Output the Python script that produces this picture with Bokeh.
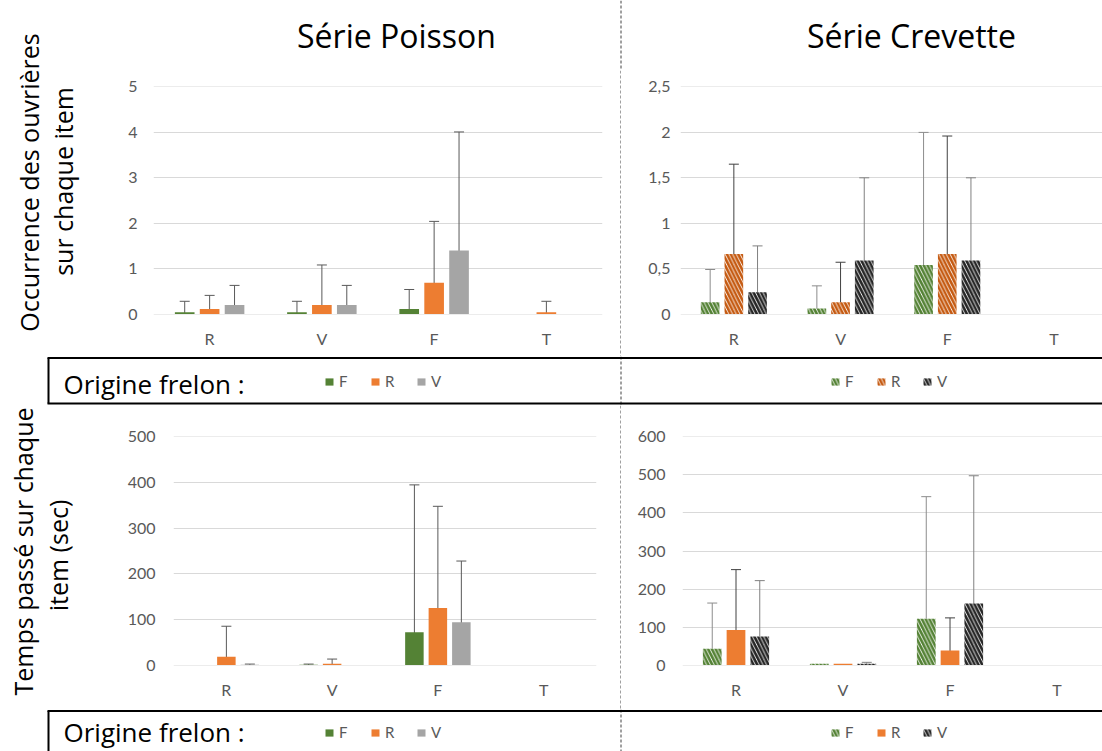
import numpy as np
from bokeh.plotting import figure
from bokeh.models import (ColumnDataSource, Range1d, FixedTicker, Whisker, TeeHead,
                          Legend, LegendItem)
from bokeh.layouts import column, row
from bokeh.embed import file_html
from bokeh.resources import INLINE
from bokeh.core.properties import value

# ---------------- data ----------------
categories = ["R", "V", "F", "T"]
origins = ["F", "R", "V"]

# Occurrence des ouvrières – Série Poisson
occ_poisson_F = [0.04, 0.04, 0.11, 0.0]
occ_poisson_R = [0.11, 0.20, 0.69, 0.04]
occ_poisson_V = [0.20, 0.20, 1.40, 0.0]
occ_poisson_F_err = [0.24, 0.24, 0.43, 0.0]
occ_poisson_R_err = [0.30, 0.88, 1.35, 0.24]
occ_poisson_V_err = [0.43, 0.43, 2.61, 0.0]

# Occurrence des ouvrières – Série Crevette
occ_crevette_F = [0.13, 0.06, 0.54, 0.0]
occ_crevette_R = [0.66, 0.13, 0.66, 0.0]
occ_crevette_V = [0.24, 0.59, 0.59, 0.0]
occ_crevette_F_err = [0.36, 0.25, 1.46, 0.0]
occ_crevette_R_err = [0.99, 0.44, 1.30, 0.0]
occ_crevette_V_err = [0.51, 0.91, 0.91, 0.0]

# Temps passé (sec) – Série Poisson
time_poisson_F = [0.0, 0.5, 72, 0.0]
time_poisson_R = [18, 3, 125, 0.0]
time_poisson_V = [0.5, 0.0, 94, 0.0]
time_poisson_F_err = [0.0, 1.5, 323, 0.0]
time_poisson_R_err = [67, 10, 223, 0.0]
time_poisson_V_err = [1.5, 0.0, 134, 0.0]

# Temps passé (sec) – Série Crevette
time_crevette_F = [43, 3, 122, 0.0]
time_crevette_R = [92, 3, 38, 0.0]
time_crevette_V = [75, 3, 162, 0.0]
time_crevette_F_err = [120, 0.0, 321, 0.0]
time_crevette_R_err = [159, 0.0, 86, 0.0]
time_crevette_V_err = [147, 4, 336, 0.0]

occ_poisson_ticks = [0, 1, 2, 3, 4, 5]
occ_poisson_labels = ["0", "1", "2", "3", "4", "5"]
occ_crevette_ticks = [0, 0.5, 1, 1.5, 2, 2.5]
occ_crevette_labels = ["0", "0,5", "1", "1,5", "2", "2,5"]
time_poisson_ticks = [0, 100, 200, 300, 400, 500]
time_poisson_labels = ["0", "100", "200", "300", "400", "500"]
time_crevette_ticks = [0, 100, 200, 300, 400, 500, 600]
time_crevette_labels = ["0", "100", "200", "300", "400", "500", "600"]

titles = ["Série Poisson", "Série Crevette"]
ylabel_top = ["Occurrence des ouvrières", "sur chaque item"]
ylabel_bottom = ["Temps passé sur chaque", "item (sec)"]
legend_title = "Origine frelon :"

# ---------------- styles ----------------
FONT = "Lato"
BIG_FONT = "Open Sans"
TICK_COLOR = "#595959"
GREEN = "#548235"
ORANGE = "#ED7D31"
DARK_ORANGE = "#C55A11"
GRAY = "#A5A5A5"
BLACK = "#262626"
DIV_COLOR = "#404040"
BAR_W = 0.175
OFFSETS = [-0.222, 0.0, 0.222]


def solid(c):
    return dict(fill_color=c, line_color=None)


def hatched(c):
    return dict(fill_color="white", line_color=None, hatch_pattern="\\",
                hatch_color=c, hatch_weight=2.6, hatch_scale=7.5)


poisson_styles = [solid(GREEN), solid(ORANGE), solid(GRAY)]
crevette_occ_styles = [hatched(GREEN), hatched(DARK_ORANGE), hatched(BLACK)]
crevette_time_styles = [hatched(GREEN), solid(ORANGE), hatched(BLACK)]


def chart(width, height, xend, yticks, ylabels, values, errors, styles, err_colors,
          borders, ystandoff, xstandoff):
    left, right, top, bottom = borders
    yend = yticks[-1]
    frame_h = height - top - bottom
    pad = 0.5 * yend / frame_h
    p = figure(width=width, height=height, x_range=Range1d(-0.5, xend),
               y_range=Range1d(-pad, yend + pad), output_backend="svg",
               toolbar_location=None, min_border_left=left, min_border_right=right,
               min_border_top=top, min_border_bottom=bottom,
               outline_line_color=None, background_fill_color="white",
               border_fill_color="white")
    n = len(categories)
    for k in range(3):
        xs = [i + OFFSETS[k] for i in range(n)]
        src = ColumnDataSource(dict(x=xs, top=values[k]))
        p.vbar(x="x", top="top", width=BAR_W, source=src, **styles[k])
        keep = [i for i in range(n) if errors[k][i] > 0]
        wsrc = ColumnDataSource(dict(
            base=[xs[i] for i in keep],
            lower=[max(values[k][i] - errors[k][i], 0) for i in keep],
            upper=[values[k][i] + errors[k][i] for i in keep]))
        wh = Whisker(source=wsrc, base="base", lower="lower", upper="upper",
                     dimension="height", line_color=err_colors[k], line_width=1,
                     upper_head=TeeHead(size=10, line_color=err_colors[k], line_width=1),
                     lower_head=None)
        p.add_layout(wh)
    p.xaxis.ticker = FixedTicker(ticks=list(range(n)))
    p.xaxis.major_label_overrides = {i: c for i, c in enumerate(categories)}
    p.yaxis.ticker = FixedTicker(ticks=yticks)
    p.yaxis.major_label_overrides = {t: l for t, l in zip(yticks, ylabels)}
    for ax in (p.xaxis, p.yaxis):
        ax.axis_line_color = None
        ax.major_tick_line_color = None
        ax.minor_tick_line_color = None
        ax.major_tick_out = 0
        ax.major_tick_in = 0
        ax.major_label_text_font = FONT
        ax.major_label_text_font_size = "16px"
        ax.major_label_text_color = TICK_COLOR
    p.yaxis.major_label_standoff = ystandoff
    p.xaxis.major_label_standoff = xstandoff
    p.xgrid.visible = False
    p.ygrid.ticker = FixedTicker(ticks=yticks)
    p.ygrid.grid_line_color = "#D9D9D9"
    p.ygrid.grid_line_width = 1
    return p


def deco(x0, y0, w, h):
    # decoration canvas whose data units are page pixels (y downwards)
    p = figure(width=w, height=h, x_range=Range1d(x0, x0 + w), y_range=Range1d(y0 + h, y0),
               x_axis_type=None, y_axis_type=None, output_backend="svg",
               toolbar_location=None, min_border=0, outline_line_color=None,
               background_fill_color="white", border_fill_color="white")
    return p


def divider(p, y0, y1):
    p.segment(x0=[620.5], y0=[y0], x1=[620.5], y1=[y1], line_color=DIV_COLOR,
              line_width=1, line_dash="3 2")


def vlabels(p, xs, ys, lines):
    p.text(x=xs, y=ys, text=lines, angle=np.pi / 2, text_font=value(BIG_FONT),
           text_font_size="25px", text_color="black", text_align="center",
           text_baseline="middle")


def legend_strip(y0, h, box_bottom, text_y, leg_y, right_styles):
    p = deco(0, y0, 1102, h)
    divider(p, y0, y0 + h)
    top = y0 + 1.5
    p.segment(x0=[47], y0=[top], x1=[1102], y1=[top], line_color="black", line_width=2)
    p.segment(x0=[48], y0=[top], x1=[48], y1=[box_bottom], line_color="black", line_width=2)
    if box_bottom < y0 + h:
        p.segment(x0=[47], y0=[box_bottom], x1=[1102], y1=[box_bottom],
                  line_color="black", line_width=2)
    p.text(x=[63], y=[text_y], text=[legend_title], text_font=value(BIG_FONT),
           text_font_size="26px", text_color="black", text_baseline="middle",
           text_align="left")
    for xloc, styles in ((324, poisson_styles), (830, right_styles)):
        items = []
        for s, st in zip(origins, styles):
            r = p.quad(left=[np.nan], right=[np.nan], top=[np.nan], bottom=[np.nan], **st)
            items.append(LegendItem(label=s, renderers=[r]))
        leg = Legend(items=items, orientation="horizontal", location=(xloc, leg_y),
                     border_line_color=None, background_fill_alpha=0, padding=0,
                     margin=0, spacing=11, glyph_width=10, glyph_height=9,
                     label_standoff=5, label_height=16, label_text_font=FONT,
                     label_text_font_size="15px", label_text_color=TICK_COLOR)
        p.add_layout(leg)
    return p


# ---------------- top band (page y 0..356) ----------------
label_top = deco(0, 0, 80, 356)
vlabels(label_top, [28, 62], [182, 181], ylabel_top)

title_strip = deco(80, 0, 1022, 70)
title_strip.text(x=[396, 911], y=[35, 35], text=titles, text_font=value(BIG_FONT),
                 text_font_size="32px", text_color="black", text_align="center",
                 text_baseline="middle")
divider(title_strip, 0, 70)

# TL: x 80..619, y 70..356 ; frame x 153..602, y 86..314
tl = chart(539, 286, 3.5, occ_poisson_ticks, occ_poisson_labels,
           [occ_poisson_F, occ_poisson_R, occ_poisson_V],
           [occ_poisson_F_err, occ_poisson_R_err, occ_poisson_V_err],
           poisson_styles, ["#595959"] * 3, (73, 17, 16, 42), 16, 14)
div1 = deco(619, 70, 2, 286)
divider(div1, 70, 356)
# TR: x 621..1102 ; frame x 680..1102, y 86..314
tr = chart(481, 286, 3.455, occ_crevette_ticks, occ_crevette_labels,
           [occ_crevette_F, occ_crevette_R, occ_crevette_V],
           [occ_crevette_F_err, occ_crevette_R_err, occ_crevette_V_err],
           crevette_occ_styles, ["#8C8C8C", "#404040", "#808080"], (59, 0, 16, 42), 10, 14)

top_band = row(label_top, column(title_strip, row(column(tl), div1, column(tr))))

strip1 = legend_strip(356, 49, 403, 383, 15, crevette_occ_styles)

# ---------------- bottom band (page y 405..709) ----------------
label_bot = deco(0, 405, 80, 304)
vlabels(label_bot, [22, 57], [551, 555], ylabel_bottom)
# BL: x 80..619 ; frame x 173..596, y 436..665
bl = chart(539, 304, 3.5, time_poisson_ticks, time_poisson_labels,
           [time_poisson_F, time_poisson_R, time_poisson_V],
           [time_poisson_F_err, time_poisson_R_err, time_poisson_V_err],
           poisson_styles, ["#595959"] * 3, (93, 23, 31, 44), 18, 14)
div2 = deco(619, 405, 2, 304)
divider(div2, 405, 709)
# BR: x 621..1102 ; frame x 682..1102, y 436..665
br = chart(481, 304, 3.425, time_crevette_ticks, time_crevette_labels,
           [time_crevette_F, time_crevette_R, time_crevette_V],
           [time_crevette_F_err, time_crevette_R_err, time_crevette_V_err],
           crevette_time_styles, ["#8C8C8C", "#404040", "#808080"], (61, 0, 31, 44), 17, 14)
bottom_band = row(label_bot, column(bl), div2, column(br))

strip2 = legend_strip(709, 42, 800, 731, 10, crevette_time_styles)

layout = column(top_band, strip1, bottom_band, strip2)

open("out.html", "w").write(file_html(layout, INLINE))
